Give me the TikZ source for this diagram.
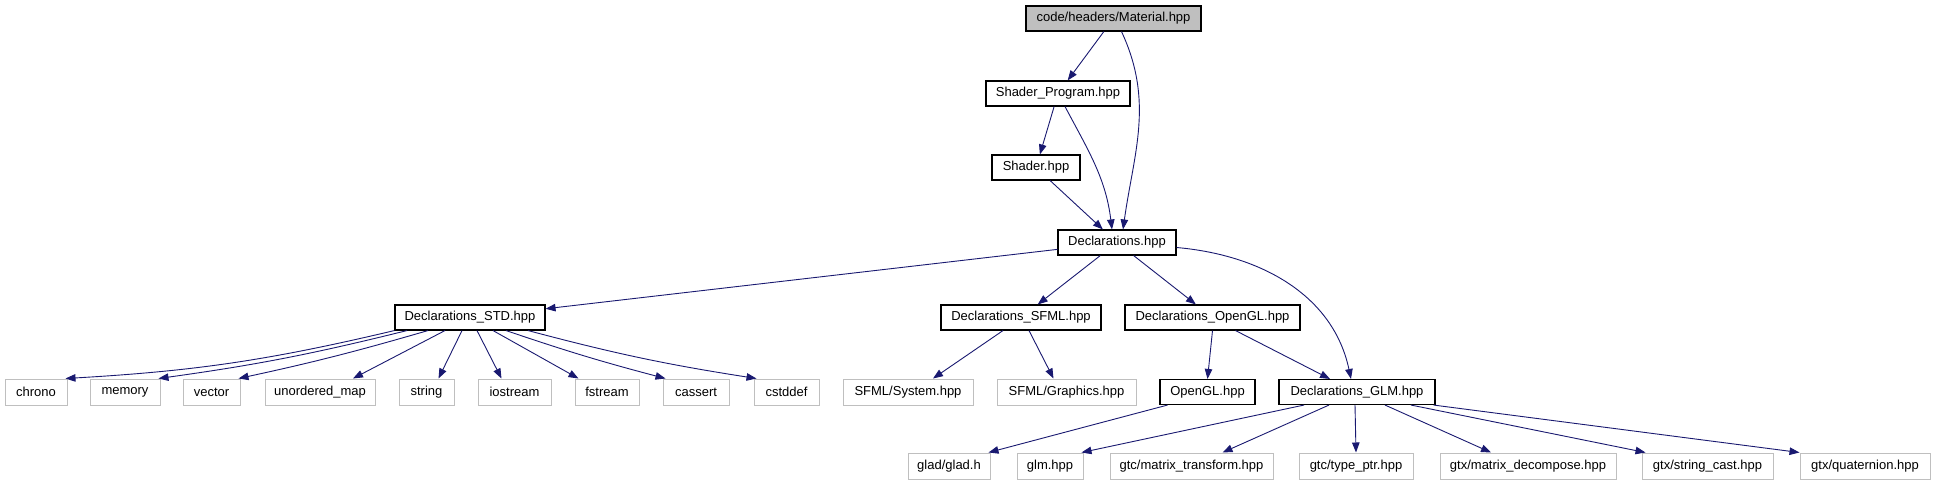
\documentclass[tikz,border=0pt]{standalone}
\usepackage{fontspec}
\setmainfont{Liberation Sans}
\usetikzlibrary{arrows.meta}
\definecolor{edgeblue}{HTML}{191970}
\definecolor{extgray}{HTML}{BFBFBF}
\tikzset{
  hdrbox/.style={draw=black, line width=1.1pt, fill=white, inner xsep=0pt,
    minimum height=25pt, font=\fontsize{13}{15}\selectfont},
  extbox/.style={draw=extgray, line width=1pt, fill=white, inner xsep=0pt,
    minimum height=26pt, font=\fontsize{13}{15}\selectfont},
  incl/.style={draw=edgeblue, line width=0.9pt,
    -{Triangle[length=10pt,width=7.5pt]}},
}
\begin{document}
\begin{tikzpicture}[x=1pt,y=-1pt]
\useasboundingbox (0,0) rectangle (1935,485);
% internal headers
\node[hdrbox, fill=extgray, minimum width=175pt] (mat) at (1113.5,18.5) {code/headers/Material.hpp};
\node[hdrbox, minimum width=144pt] (sprog) at (1058,93.5) {Shader\_Program.hpp};
\node[hdrbox, minimum width=88pt] (shader) at (1036,167.5) {Shader.hpp};
\node[hdrbox, minimum width=118pt] (decl) at (1117,242.5) {Declarations.hpp};
\node[hdrbox, minimum width=150pt] (dstd) at (470,317.5) {Declarations\_STD.hpp};
\node[hdrbox, minimum width=160pt] (dsfml) at (1021,317.5) {Declarations\_SFML.hpp};
\node[hdrbox, minimum width=175pt] (dogl) at (1212.5,317.5) {Declarations\_OpenGL.hpp};
\node[hdrbox, minimum width=95pt] (ogl) at (1207.5,392) {OpenGL.hpp};
\node[hdrbox, minimum width=156pt] (dglm) at (1357,392) {Declarations\_GLM.hpp};
% system headers
\node[extbox, minimum width=62pt] (chrono) at (36,392) {chrono};
\node[extbox, minimum width=70pt] (memory) at (125,392) {memory};
\node[extbox, minimum width=57pt] (vector) at (211.5,392) {vector};
\node[extbox, minimum width=110pt] (umap) at (320,392) {unordered\_map};
\node[extbox, minimum width=55pt] (string) at (426.5,392) {string};
\node[extbox, minimum width=73pt] (iostream) at (514.5,392) {iostream};
\node[extbox, minimum width=64pt] (fstream) at (607,392) {fstream};
\node[extbox, minimum width=66pt] (cassert) at (696,392) {cassert};
\node[extbox, minimum width=65pt] (cstddef) at (786.5,392) {cstddef};
\node[extbox, minimum width=130pt] (sfsys) at (908,392) {SFML/System.hpp};
\node[extbox, minimum width=139pt] (sfgfx) at (1066.5,392) {SFML/Graphics.hpp};
\node[extbox, minimum width=82pt] (glad) at (949,466) {glad/glad.h};
\node[extbox, minimum width=66pt] (glm) at (1050,466) {glm.hpp};
\node[extbox, minimum width=163pt] (mtrans) at (1191.5,466) {gtc/matrix\_transform.hpp};
\node[extbox, minimum width=114pt] (tptr) at (1356,466) {gtc/type\_ptr.hpp};
\node[extbox, minimum width=176pt] (mdecomp) at (1528,466) {gtx/matrix\_decompose.hpp};
\node[extbox, minimum width=131pt] (scast) at (1707.5,466) {gtx/string\_cast.hpp};
\node[extbox, minimum width=130pt] (quat) at (1865,466) {gtx/quaternion.hpp};
% includes
\draw[incl] (mat) -- (sprog);
\draw[incl] ([xshift=8pt]mat.south) to[out=-65,in=82] ([xshift=6pt]decl.north);
\draw[incl] (sprog) -- (shader);
\draw[incl] ([xshift=7pt]sprog.south) to[out=-62,in=97] ([xshift=-5pt]decl.north);
\draw[incl] (shader) -- (decl);
\draw[incl] (decl) -- (dstd);
\draw[incl] (decl) -- (dsfml);
\draw[incl] (decl) -- (dogl);
\draw[incl] ([yshift=-5pt]decl.east) to[out=-5,in=102] ([xshift=-6pt]dglm.north);
% std headers
\draw[incl] (dstd.south west) to[bend left=5] ([xshift=-2pt]chrono.north east);
\draw[incl] ([xshift=-63pt]dstd.south) to[bend left=3] ([xshift=-2pt]memory.north east);
\draw[incl] ([xshift=-42pt]dstd.south) to[bend left=2] ([xshift=-2pt]vector.north east);
\draw[incl] ([xshift=-25pt]dstd.south) -- ([xshift=33pt]umap.north);
\draw[incl] ([xshift=-8pt]dstd.south) -- ([xshift=12pt]string.north);
\draw[incl] ([xshift=7pt]dstd.south) -- ([xshift=-13pt]iostream.north);
\draw[incl] ([xshift=23pt]dstd.south) -- ([xshift=4pt]fstream.north west);
\draw[incl] ([xshift=36pt]dstd.south) to[bend right=2] ([xshift=3pt]cassert.north west);
\draw[incl] ([xshift=58pt]dstd.south) to[bend right=3] ([xshift=3pt]cstddef.north west);
% sfml and opengl
\draw[incl] ([xshift=-18pt]dsfml.south) -- ([xshift=25pt]sfsys.north);
\draw[incl] ([xshift=8pt]dsfml.south) -- ([xshift=-13pt]sfgfx.north);
\draw[incl] (dogl.south) -- (ogl.north);
\draw[incl] ([xshift=23pt]dogl.south) -- ([xshift=-27pt]dglm.north);
\draw[incl] ([xshift=-40pt]ogl.south) -- ([xshift=-2pt]glad.north east);
% glm headers
\draw[incl] ([xshift=-53pt]dglm.south) -- ([xshift=-2pt]glm.north east);
\draw[incl] ([xshift=-28pt]dglm.south) -- ([xshift=31pt]mtrans.north);
\draw[incl] ([xshift=-2pt]dglm.south) -- (tptr.north);
\draw[incl] ([xshift=28pt]dglm.south) -- ([xshift=-37pt]mdecomp.north);
\draw[incl] ([xshift=54pt]dglm.south) -- ([xshift=4pt]scast.north west);
\draw[incl] ([xshift=-2pt]dglm.south east) -- (quat.north west);
\end{tikzpicture}
\end{document}
